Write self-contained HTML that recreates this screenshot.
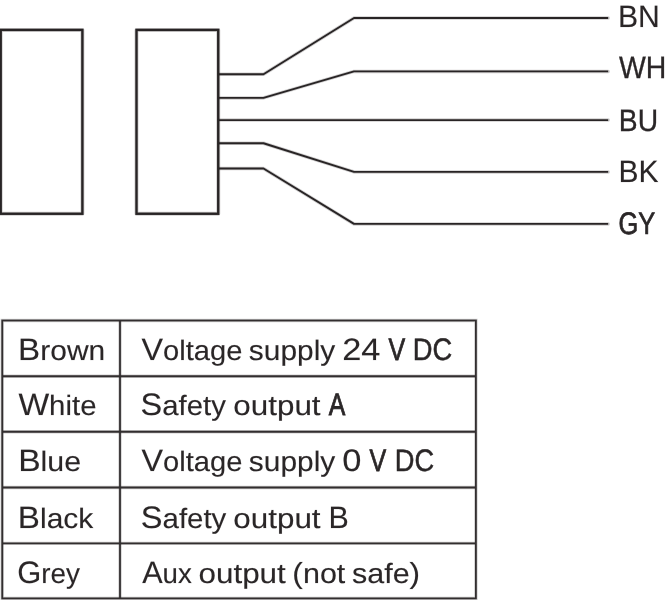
<!DOCTYPE html>
<html><head><meta charset="utf-8">
<style>
html,body{margin:0;padding:0;background:#fff;width:666px;height:600px;overflow:hidden}
svg{position:absolute;left:0;top:0;display:block;will-change:transform}
text{text-rendering:geometricPrecision;font-family:"Liberation Sans",sans-serif;fill:#2a2627;font-size:31px;stroke:rgba(35,31,32,0.25);stroke-width:0.45px;paint-order:stroke}
</style></head><body>
<svg width="666" height="600" viewBox="0 0 666 600">
<g fill="none" stroke="rgba(35,31,32,0.22)" stroke-width="4.0" stroke-linejoin="round">
<rect x="0.7" y="29.9" width="81.7" height="183.85"/>
<rect x="136.5" y="29.9" width="81.75" height="183.85"/>
</g>
<g fill="none" stroke="rgba(35,31,32,0.22)" stroke-width="3.5" stroke-linejoin="round" stroke-linecap="round">
<polyline points="219,74.25 263.5,74.25 354,18 608.2,18"/>
<polyline points="219,97.9 263.5,97.9 354,71.4 608.2,71.4"/>
<polyline points="219,120.1 608.2,120.1"/>
<polyline points="219,143.25 263.5,143.25 354,171.9 608.2,171.9"/>
<polyline points="219,168.5 263.5,168.5 354,223.9 608.2,223.9"/>
</g>
<g fill="none" stroke="rgba(35,31,32,0.22)" stroke-width="3.4000000000000004" >
<rect x="2.25" y="320.5" width="473.65" height="277.9"/>
<line x1="120" y1="320" x2="120" y2="599"/>
<line x1="2" y1="376.25" x2="476" y2="376.25"/>
<line x1="2" y1="431.75" x2="476" y2="431.75"/>
<line x1="2" y1="487.5" x2="476" y2="487.5"/>
<line x1="2" y1="543.4" x2="476" y2="543.4"/>
</g>
<g fill="none" stroke="#282425" stroke-width="2.4" >
<rect x="0.7" y="29.9" width="81.7" height="183.85"/>
<rect x="136.5" y="29.9" width="81.75" height="183.85"/>
</g>
<g fill="none" stroke="#282425" stroke-width="1.9" stroke-linejoin="round">
<polyline points="219,74.25 263.5,74.25 354,18 608.2,18"/>
<polyline points="219,97.9 263.5,97.9 354,71.4 608.2,71.4"/>
<polyline points="219,120.1 608.2,120.1"/>
<polyline points="219,143.25 263.5,143.25 354,171.9 608.2,171.9"/>
<polyline points="219,168.5 263.5,168.5 354,223.9 608.2,223.9"/>
</g>
<g fill="none" stroke="#322e2f" stroke-width="1.8" >
<rect x="2.25" y="320.5" width="473.65" height="277.9"/>
<line x1="120" y1="320" x2="120" y2="599"/>
<line x1="2" y1="376.25" x2="476" y2="376.25"/>
<line x1="2" y1="431.75" x2="476" y2="431.75"/>
<line x1="2" y1="487.5" x2="476" y2="487.5"/>
<line x1="2" y1="543.4" x2="476" y2="543.4"/>
</g>
<text x="618.03" y="26.50" textLength="41.88" lengthAdjust="spacingAndGlyphs"><tspan style="font-size:31px">BN</tspan></text>
<text x="618.88" y="78.00" textLength="47.38" lengthAdjust="spacingAndGlyphs" style="stroke:#2a2627;stroke-width:0.32px"><tspan style="font-size:31px">WH</tspan></text>
<text x="618.84" y="130.70" textLength="39.26" lengthAdjust="spacingAndGlyphs" style="stroke:#2a2627;stroke-width:0.32px"><tspan style="font-size:31px">BU</tspan></text>
<text x="618.41" y="182.30" textLength="40.02" lengthAdjust="spacingAndGlyphs"><tspan style="font-size:31px">BK</tspan></text>
<text x="618.42" y="233.70" textLength="36.68" lengthAdjust="spacingAndGlyphs" style="stroke:#2a2627;stroke-width:0.74px"><tspan style="font-size:31px">GY</tspan></text>
<text x="18.13" y="359.80" textLength="87.07" lengthAdjust="spacingAndGlyphs"><tspan style="font-size:31px">B</tspan><tspan style="font-size:28px">rown</tspan></text>
<text x="18.43" y="415.20" textLength="78.09" lengthAdjust="spacingAndGlyphs"><tspan style="font-size:31px">W</tspan><tspan style="font-size:28px">hite</tspan></text>
<text x="18.15" y="470.80" textLength="63.01" lengthAdjust="spacingAndGlyphs"><tspan style="font-size:31px">B</tspan><tspan style="font-size:28px">lue</tspan></text>
<text x="17.84" y="527.50" textLength="75.51" lengthAdjust="spacingAndGlyphs"><tspan style="font-size:31px">B</tspan><tspan style="font-size:28px">lack</tspan></text>
<text x="17.30" y="583.20" textLength="62.72" lengthAdjust="spacingAndGlyphs"><tspan style="font-size:31px">G</tspan><tspan style="font-size:28px">rey</tspan></text>
<text x="141.54" y="359.80" textLength="100.86" lengthAdjust="spacingAndGlyphs"><tspan style="font-size:31px">V</tspan><tspan style="font-size:28px">oltage</tspan></text>
<text x="248.89" y="359.80" textLength="86.38" lengthAdjust="spacingAndGlyphs"><tspan style="font-size:28px">supply</tspan></text>
<text x="342.17" y="359.80" textLength="38.18" lengthAdjust="spacingAndGlyphs"><tspan style="font-size:31px">24</tspan></text>
<text x="388.48" y="359.80" textLength="16.70" lengthAdjust="spacingAndGlyphs" style="stroke:#2a2627;stroke-width:0.77px"><tspan style="font-size:31px">V</tspan></text>
<text x="412.76" y="359.80" textLength="39.44" lengthAdjust="spacingAndGlyphs" style="stroke:#2a2627;stroke-width:0.50px"><tspan style="font-size:31px">DC</tspan></text>
<text x="140.64" y="415.20" textLength="85.24" lengthAdjust="spacingAndGlyphs"><tspan style="font-size:31px">S</tspan><tspan style="font-size:28px">afety</tspan></text>
<text x="233.28" y="415.20" textLength="87.32" lengthAdjust="spacingAndGlyphs"><tspan style="font-size:28px">output</tspan></text>
<text x="328.77" y="415.20" textLength="16.57" lengthAdjust="spacingAndGlyphs" style="stroke:#2a2627;stroke-width:0.85px"><tspan style="font-size:31px">A</tspan></text>
<text x="141.54" y="470.80" textLength="100.86" lengthAdjust="spacingAndGlyphs"><tspan style="font-size:31px">V</tspan><tspan style="font-size:28px">oltage</tspan></text>
<text x="248.89" y="470.80" textLength="86.38" lengthAdjust="spacingAndGlyphs"><tspan style="font-size:28px">supply</tspan></text>
<text x="342.33" y="470.80" textLength="19.19" lengthAdjust="spacingAndGlyphs"><tspan style="font-size:31px">0</tspan></text>
<text x="369.48" y="470.80" textLength="16.70" lengthAdjust="spacingAndGlyphs" style="stroke:#2a2627;stroke-width:0.77px"><tspan style="font-size:31px">V</tspan></text>
<text x="394.76" y="470.80" textLength="39.35" lengthAdjust="spacingAndGlyphs" style="stroke:#2a2627;stroke-width:0.48px"><tspan style="font-size:31px">DC</tspan></text>
<text x="140.82" y="527.50" textLength="85.48" lengthAdjust="spacingAndGlyphs"><tspan style="font-size:31px">S</tspan><tspan style="font-size:28px">afety</tspan></text>
<text x="233.28" y="527.50" textLength="87.32" lengthAdjust="spacingAndGlyphs"><tspan style="font-size:28px">output</tspan></text>
<text x="328.47" y="527.50" textLength="20.30" lengthAdjust="spacingAndGlyphs"><tspan style="font-size:31px">B</tspan></text>
<text x="142.13" y="583.20" textLength="49.62" lengthAdjust="spacingAndGlyphs"><tspan style="font-size:31px">A</tspan><tspan style="font-size:28px">ux</tspan></text>
<text x="198.45" y="583.20" textLength="87.40" lengthAdjust="spacingAndGlyphs"><tspan style="font-size:28px">output</tspan></text>
<text x="292.39" y="583.20" textLength="52.95" lengthAdjust="spacingAndGlyphs"><tspan style="font-size:29px">(</tspan><tspan style="font-size:28px">not</tspan></text>
<text x="352.02" y="583.20" textLength="68.14" lengthAdjust="spacingAndGlyphs"><tspan style="font-size:28px">safe</tspan><tspan style="font-size:29px">)</tspan></text>
</svg>
</body></html>
